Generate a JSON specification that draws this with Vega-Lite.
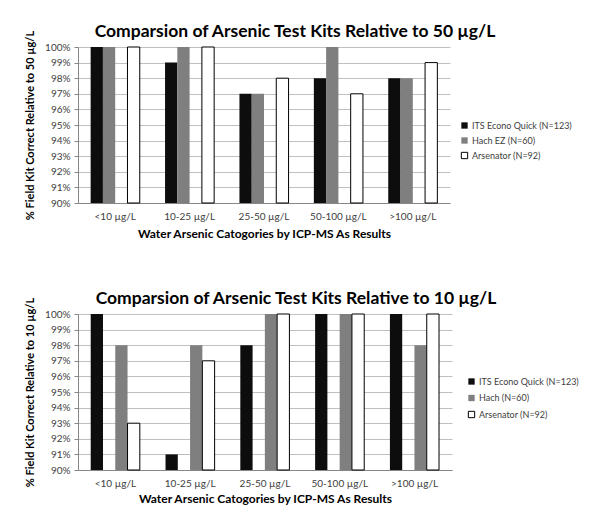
{
  "$schema": "https://vega.github.io/schema/vega-lite/v6.json",
  "background": "white",
  "padding": {"left": 24, "top": 22, "right": 5, "bottom": 5},
  "spacing": 50,
  "datasets": {
    "p50": [
      {"cat": "<10 µg/L", "kit": "ITS Econo Quick (N=123)", "pct": 1.00},
      {"cat": "<10 µg/L", "kit": "Hach EZ (N=60)", "pct": 1.00},
      {"cat": "<10 µg/L", "kit": "Arsenator (N=92)", "pct": 1.00},
      {"cat": "10-25 µg/L", "kit": "ITS Econo Quick (N=123)", "pct": 0.99},
      {"cat": "10-25 µg/L", "kit": "Hach EZ (N=60)", "pct": 1.00},
      {"cat": "10-25 µg/L", "kit": "Arsenator (N=92)", "pct": 1.00},
      {"cat": "25-50 µg/L", "kit": "ITS Econo Quick (N=123)", "pct": 0.97},
      {"cat": "25-50 µg/L", "kit": "Hach EZ (N=60)", "pct": 0.97},
      {"cat": "25-50 µg/L", "kit": "Arsenator (N=92)", "pct": 0.98},
      {"cat": "50-100 µg/L", "kit": "ITS Econo Quick (N=123)", "pct": 0.98},
      {"cat": "50-100 µg/L", "kit": "Hach EZ (N=60)", "pct": 1.00},
      {"cat": "50-100 µg/L", "kit": "Arsenator (N=92)", "pct": 0.97},
      {"cat": ">100 µg/L", "kit": "ITS Econo Quick (N=123)", "pct": 0.98},
      {"cat": ">100 µg/L", "kit": "Hach EZ (N=60)", "pct": 0.98},
      {"cat": ">100 µg/L", "kit": "Arsenator (N=92)", "pct": 0.99}
    ],
    "p10": [
      {"cat": "<10 µg/L", "kit": "ITS Econo Quick (N=123)", "pct": 1.00},
      {"cat": "<10 µg/L", "kit": "Hach (N=60)", "pct": 0.98},
      {"cat": "<10 µg/L", "kit": "Arsenator (N=92)", "pct": 0.93},
      {"cat": "10-25 µg/L", "kit": "ITS Econo Quick (N=123)", "pct": 0.91},
      {"cat": "10-25 µg/L", "kit": "Hach (N=60)", "pct": 0.98},
      {"cat": "10-25 µg/L", "kit": "Arsenator (N=92)", "pct": 0.97},
      {"cat": "25-50 µg/L", "kit": "ITS Econo Quick (N=123)", "pct": 0.98},
      {"cat": "25-50 µg/L", "kit": "Hach (N=60)", "pct": 1.00},
      {"cat": "25-50 µg/L", "kit": "Arsenator (N=92)", "pct": 1.00},
      {"cat": "50-100 µg/L", "kit": "ITS Econo Quick (N=123)", "pct": 1.00},
      {"cat": "50-100 µg/L", "kit": "Hach (N=60)", "pct": 1.00},
      {"cat": "50-100 µg/L", "kit": "Arsenator (N=92)", "pct": 1.00},
      {"cat": ">100 µg/L", "kit": "ITS Econo Quick (N=123)", "pct": 1.00},
      {"cat": ">100 µg/L", "kit": "Hach (N=60)", "pct": 0.98},
      {"cat": ">100 µg/L", "kit": "Arsenator (N=92)", "pct": 1.00}
    ]
  },
  "vconcat": [
    {
      "data": {"name": "p50"},
      "width": 372,
      "height": 156,
      "title": {"text": "Comparsion of Arsenic Test Kits Relative to 50 µg/L", "dx": 31},
      "mark": {"type": "bar", "strokeWidth": 1},
      "encoding": {
        "x": {"field": "cat", "type": "nominal", "sort": ["<10 µg/L", "10-25 µg/L", "25-50 µg/L", "50-100 µg/L", ">100 µg/L"],
              "scale": {"paddingInner": 0.34, "paddingOuter": 0.17},
              "axis": {"title": "Water Arsenic Catogories by ICP-MS As Results", "labelAngle": 0, "ticks": false, "labelPadding": 8, "titlePadding": 7}},
        "xOffset": {"field": "kit", "type": "nominal", "sort": ["ITS Econo Quick (N=123)", "Hach EZ (N=60)", "Arsenator (N=92)"],
                    "scale": {"paddingInner": 0, "paddingOuter": 0}},
        "y": {"field": "pct", "type": "quantitative", "scale": {"domain": [0.9, 1.0], "zero": false, "nice": false},
              "axis": {"title": "% Field Kit Correct Relative to 50 µg/L", "format": ".0%", "values": [0.9, 0.91, 0.92, 0.93, 0.94, 0.95, 0.96, 0.97, 0.98, 0.99, 1.0]}},
        "y2": {"datum": 0.9},
        "color": {"field": "kit", "type": "nominal", "sort": ["ITS Econo Quick (N=123)", "Hach EZ (N=60)", "Arsenator (N=92)"],
                  "scale": {"range": ["#0d0d0d", "#7f7f7f", "#ffffff"]},
                  "legend": {"title": null, "orient": "none", "legendX": 382, "legendY": 74, "rowPadding": 4,
                             "encode": {"symbols": {"update": {"stroke": {"signal": "datum.label === 'Arsenator (N=92)' ? '#000000' : 'transparent'"}, "strokeWidth": {"value": 1}}}}}},
        "stroke": {"field": "kit", "type": "nominal", "sort": ["ITS Econo Quick (N=123)", "Hach EZ (N=60)", "Arsenator (N=92)"],
                   "scale": {"range": ["transparent", "transparent", "#000000"]}, "legend": null}
      }
    },
    {
      "data": {"name": "p10"},
      "width": 374,
      "height": 156,
      "title": {"text": "Comparsion of Arsenic Test Kits Relative to 10 µg/L", "dx": 31},
      "mark": {"type": "bar", "strokeWidth": 1},
      "encoding": {
        "x": {"field": "cat", "type": "nominal", "sort": ["<10 µg/L", "10-25 µg/L", "25-50 µg/L", "50-100 µg/L", ">100 µg/L"],
              "scale": {"paddingInner": 0.34, "paddingOuter": 0.17},
              "axis": {"title": "Water Arsenic Catogories by ICP-MS As Results", "labelAngle": 0, "ticks": false, "labelPadding": 8, "titlePadding": 5}},
        "xOffset": {"field": "kit", "type": "nominal", "sort": ["ITS Econo Quick (N=123)", "Hach (N=60)", "Arsenator (N=92)"],
                    "scale": {"paddingInner": 0, "paddingOuter": 0}},
        "y": {"field": "pct", "type": "quantitative", "scale": {"domain": [0.9, 1.0], "zero": false, "nice": false},
              "axis": {"title": "% Field Kit Correct Relative to 10 µg/L", "format": ".0%", "values": [0.9, 0.91, 0.92, 0.93, 0.94, 0.95, 0.96, 0.97, 0.98, 0.99, 1.0]}},
        "y2": {"datum": 0.9},
        "color": {"field": "kit", "type": "nominal", "sort": ["ITS Econo Quick (N=123)", "Hach (N=60)", "Arsenator (N=92)"],
                  "scale": {"range": ["#0d0d0d", "#7f7f7f", "#ffffff"]},
                  "legend": {"title": null, "orient": "none", "legendX": 389, "legendY": 63, "rowPadding": 5.5,
                             "encode": {"symbols": {"update": {"stroke": {"signal": "datum.label === 'Arsenator (N=92)' ? '#000000' : 'transparent'"}, "strokeWidth": {"value": 1}}}}}},
        "stroke": {"field": "kit", "type": "nominal", "sort": ["ITS Econo Quick (N=123)", "Hach (N=60)", "Arsenator (N=92)"],
                   "scale": {"range": ["transparent", "transparent", "#000000"]}, "legend": null}
      }
    }
  ],
  "resolve": {"scale": {"color": "independent", "stroke": "independent"}, "legend": {"color": "independent"}},
  "config": {
    "font": "Lato",
    "view": {"stroke": null},
    "title": {"fontSize": 17.5, "fontWeight": "bold", "color": "#000000", "anchor": "middle", "frame": "group", "offset": -10},
    "axis": {"labelFontSize": 10, "labelColor": "#404040", "titleFontSize": 12, "titleFontWeight": "bold", "titleColor": "#000000",
             "gridColor": "#c0c0c0", "domainColor": "#868686", "tickColor": "#868686"},
    "axisY": {"tickSize": 4, "labelPadding": 4, "titlePadding": 9, "titleFontSize": 11},
    "axisX": {"titleFontSize": 12},
    "legend": {"symbolType": "square", "symbolSize": 40, "labelFontSize": 9, "labelColor": "#404040", "labelOffset": 3, "symbolStrokeWidth": 1, "symbolStrokeColor": "#000000"}
  }
}
